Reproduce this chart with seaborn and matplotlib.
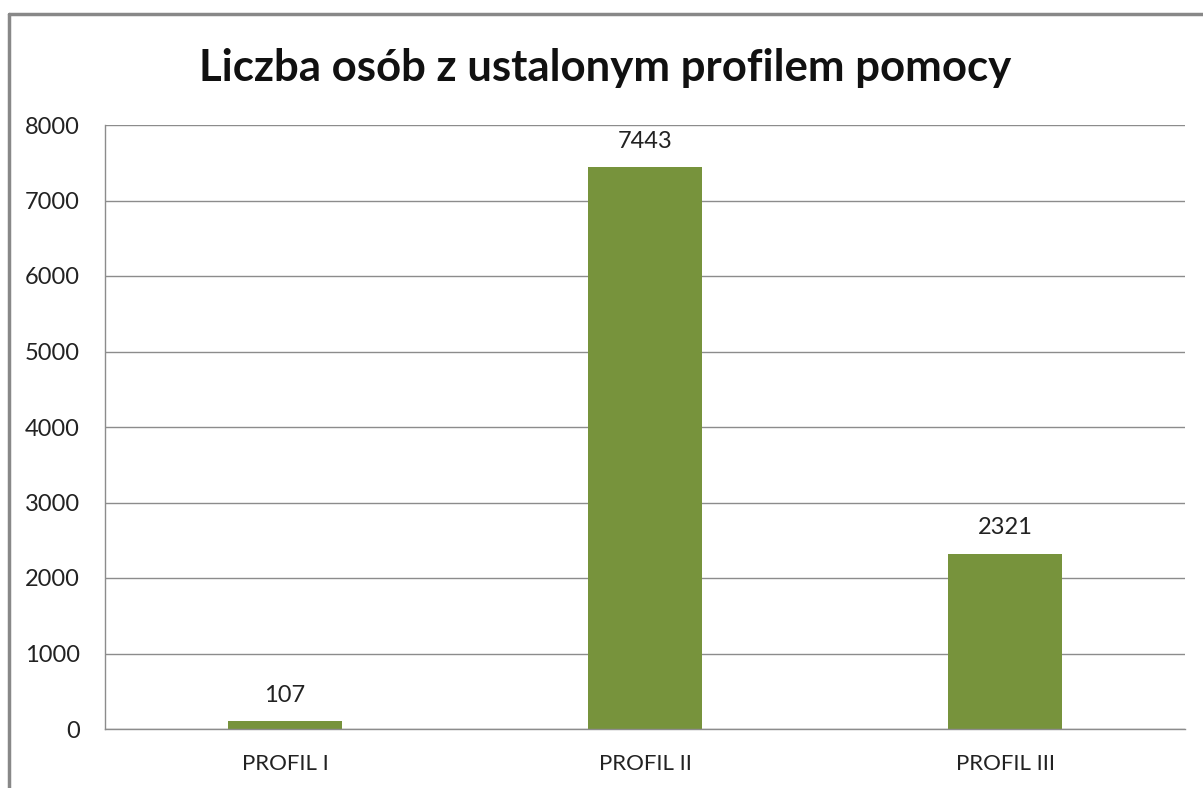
import matplotlib
matplotlib.use("Agg")
import matplotlib.pyplot as plt
import seaborn as sns
import pandas as pd
from matplotlib.lines import Line2D

categories = ["PROFIL I", "PROFIL II", "PROFIL III"]
values = [107, 7443, 2321]
title = "Liczba osób z ustalonym profilem pomocy"

sns.set_theme(style="white")
plt.rcParams["font.family"] = ["Lato", "DejaVu Sans"]

W, H = 1203, 788
fig = plt.figure(figsize=(W / 100, H / 100), dpi=100)
ax = fig.add_axes([105 / W, 1 - 729 / H, (1185 - 105) / W, (729 - 125) / H])

df = pd.DataFrame({"cat": categories, "val": values})
sns.barplot(data=df, x="cat", y="val", color="#77933C", width=0.315, ax=ax,
            saturation=1, edgecolor="none")

ax.set_ylim(0, 8000)
ax.set_xlim(-0.5, 2.5)
ax.set_yticks(range(0, 8001, 1000))
ax.yaxis.grid(True, color="#8c8c8c", linewidth=1.0)
ax.set_axisbelow(True)
for s in ["top", "right"]:
    ax.spines[s].set_visible(False)
for s in ["left", "bottom"]:
    ax.spines[s].set_color("#8c8c8c")
    ax.spines[s].set_linewidth(1.0)
ax.set_xlabel("")
ax.set_ylabel("")
ax.tick_params(axis="y", labelsize=17, colors="#222222", pad=18, length=0)
ax.tick_params(axis="x", labelsize=16, colors="#222222", pad=18, length=0)

for i, v in enumerate(values):
    ax.annotate(str(v), (i, v), xytext=(0, 11), textcoords="offset points",
                ha="center", va="bottom", fontsize=17, color="#222222")

fig.text(605 / W, 1 - 68 / H, title, ha="center", va="center",
         fontsize=31.5, fontweight="bold", color="#111111")

# chart frame
fig.add_artist(Line2D([9 / W, 1], [1 - 14 / H, 1 - 14 / H], color="#888888",
                      linewidth=2.5, transform=fig.transFigure))
fig.add_artist(Line2D([9 / W, 9 / W], [1 - 14 / H, 0], color="#888888",
                      linewidth=2.5, transform=fig.transFigure))

fig.savefig("out.png", dpi=100)
